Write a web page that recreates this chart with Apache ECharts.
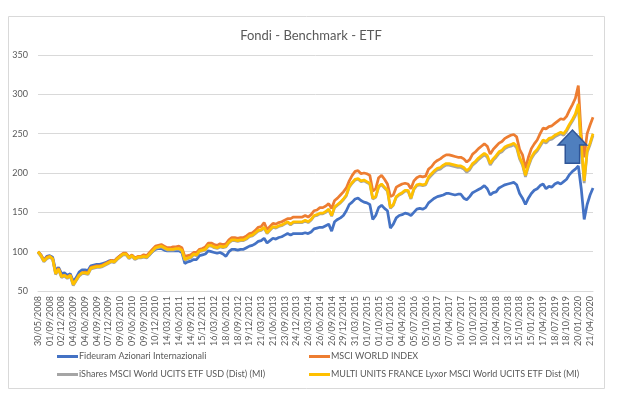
<!DOCTYPE html>
<html>
<head>
<meta charset="utf-8">
<script src="https://cdn.jsdelivr.net/npm/echarts@6/dist/echarts.min.js"></script>
<style>
html,body{margin:0;padding:0;background:#fff;}
#c{width:621px;height:400px;}
</style>
</head>
<body>
<div id="c"></div>
<script>
// ---- data ----
const tickLabels = ["30/05/2008","01/09/2008","02/12/2008","04/03/2009","04/06/2009","04/09/2009","07/12/2009","09/03/2010","09/06/2010","09/09/2010","10/12/2010","14/03/2011","14/06/2011","14/09/2011","15/12/2011","16/03/2012","18/06/2012","18/09/2012","19/12/2012","21/03/2013","21/06/2013","23/09/2013","24/12/2013","26/03/2014","26/06/2014","26/09/2014","29/12/2014","31/03/2015","01/07/2015","01/10/2015","01/01/2016","04/04/2016","05/07/2016","05/10/2016","05/01/2017","07/04/2017","10/07/2017","10/10/2017","10/01/2018","12/04/2018","13/07/2018","15/10/2018","15/01/2019","17/04/2019","18/07/2019","18/10/2019","20/01/2020","21/04/2020"];
const stepsPerTick = 4;
const extraPoints = 1;

const seriesNames = ["Fideuram Azionari Internazionali","MSCI WORLD INDEX","iShares MSCI World UCITS ETF USD (Dist) (MI)","MULTI UNITS FRANCE Lyxor MSCI World UCITS ETF Dist (MI)"];

const fideuram = [100,96,89,94,95,93,76,80,72,73,70,72,62,67,74,77,77,76,82,83,84,84,85,86,88,89,88,92,95,97,97,93,95,92,93,93,94,93,96,100,103,104,104,102,101,
101,101,101,101,99,85,87,88,90,90,95,96,97,101,100,99,98,99,97,94,100,103,103,102,103,103,105,107,108,110,113,114,117,111,114,117,116,118,119,121,123,121,123,123,
123,123,124,123,125,129,130,131,131,133,135,126,138,141,143,146,152,160,163,167,168,165,163,162,160,141,146,156,159,155,152,130,135,143,146,147,149,148,146,150,154,155,154,156,
162,165,168,170,171,172,174,174,173,172,173,173,168,166,170,175,177,179,181,184,180,172,175,176,181,183,185,186,187,188,185,174,168,160,168,174,178,180,184,186,180,183,182,186,188,186,189,192,198,202,205,209,180,141,160,172,181];

const msciWorld = [100,96,89,93,94,91,73,79,69,70,68,70,59,64,70,73,74,73,80,81,82,82,83,85,87,89,88,92,95,98,98,93,96,92,94,94,96,95,99,103,107,108,109,107,105,
105,106,106,107,105,94,95,96,99,99,103,104,106,111,111,109,108,110,109,110,115,118,118,117,118,118,120,123,124,127,131,132,137,128,132,136,135,137,138,140,142,142,144,144,
144,144,146,144,147,152,153,156,156,158,161,155,165,168,172,176,181,190,197,202,203,199,200,199,197,177,180,194,197,192,186,170,172,182,184,186,187,186,180,190,194,196,195,196,
205,208,213,216,218,221,223,223,222,221,220,220,218,214,217,224,227,231,234,237,234,224,230,234,238,240,244,246,248,249,246,230,223,206,220,231,237,242,250,257,256,259,260,263,266,269,268,272,280,287,295,311,247,220,250,261,271];

const iShares = [99,94,87,91,93,90,71,77,67,69,66,69,57,63,69,72,72,71,78,79,80,80,81,83,85,87,86,90,93,96,96,91,94,90,92,92,93,92,96,100,104,105,106,104,102,
102,102,103,103,101,89,91,92,96,95,100,101,102,107,107,105,104,106,105,106,111,114,114,113,114,114,116,119,120,123,126,127,130,123,127,131,130,132,133,135,137,134,137,137,
137,137,139,137,140,145,146,148,148,150,153,145,156,159,162,166,171,182,187,191,192,189,190,188,186,167,169,182,185,181,177,155,159,169,172,174,177,177,167,179,184,185,184,185,
193,197,201,204,205,208,210,210,209,208,207,207,205,201,204,210,213,217,220,223,220,210,216,220,225,227,231,233,234,236,232,218,210,195,208,218,224,228,234,240,238,242,243,246,248,250,248,253,260,266,273,285,233,187,226,236,248];

const lyxor = [100,95,88,92,94,91,72,78,68,70,67,70,58,64,70,73,73,72,79,80,81,81,82,84,86,88,87,91,94,97,97,92,95,91,93,93,94,93,97,101,105,106,107,105,103,
103,103,104,104,102,90,92,93,97,96,101,102,103,108,108,106,105,107,106,107,112,115,115,114,115,115,117,120,121,124,127,128,131,124,128,132,131,133,134,136,138,135,138,138,
138,138,140,138,141,146,147,149,149,151,154,146,157,160,163,167,172,183,188,192,193,190,191,189,187,168,170,183,186,182,178,156,160,170,173,175,178,178,168,180,185,186,185,186,
195,199,203,206,207,210,212,212,211,210,209,209,207,203,206,212,215,219,222,225,222,212,218,222,227,229,233,235,236,238,234,220,212,197,210,220,226,230,236,242,240,244,245,248,250,252,250,255,262,268,275,288,236,190,228,238,250];

const colors = ["#4472C4","#ED7D31","#A5A5A5","#FFC000"];

// categories: tick label dates with intermediate unlabeled points
const categories = [];
tickLabels.forEach((lab, k) => {
  categories.push(lab);
  if (k < tickLabels.length - 1) {
    for (let j = 1; j < stepsPerTick; j++) categories.push(lab + "#" + j);
  }
});
for (let j = 1; j <= extraPoints; j++) categories.push(tickLabels[tickLabels.length - 1] + "#" + j);

const FONT = "Lato, 'Open Sans', sans-serif";
const TXT = "#595959";

const chart = echarts.init(document.getElementById('c'), null, {renderer: 'canvas'});
const allData = [fideuram, msciWorld, iShares, lyxor];

const legendPos = [[57, 352],[309, 352],[57, 370],[309, 370]];

const frame = {
  type: 'rect', shape: {x: 8.5, y: 16.5, width: 596, height: 372},
  style: {fill: 'none', stroke: '#d9d9d9', lineWidth: 1}, z: 0, silent: true
};

const option = {
  backgroundColor: '#fff',
  animation: false,
  title: {
    text: 'Fondi - Benchmark - ETF',
    left: 306, top: 24, textAlign: 'center',
    textStyle: {fontFamily: FONT, fontSize: 13, fontWeight: 'normal', color: TXT}
  },
  legend: seriesNames.map((n, k) => ({
    data: [n], left: legendPos[k][0], top: legendPos[k][1], padding: 0,
    icon: 'rect', itemWidth: 21, itemHeight: 3, itemGap: 0,
    textStyle: {fontFamily: FONT, fontSize: 9, color: TXT, padding: [0,0,0,-4]}
  })),
  grid: {left: 38, right: 28, top: 55, bottom: 109, containLabel: false},
  xAxis: {
    type: 'category', data: categories, boundaryGap: false,
    axisLine: {show: true, lineStyle: {color: '#d9d9d9', width: 1}},
    axisTick: {show: false},
    axisLabel: {interval: stepsPerTick - 1, rotate: 90, margin: 5, fontFamily: FONT, fontSize: 9, color: TXT},
    splitLine: {show: false}
  },
  yAxis: {
    type: 'value', min: 50, max: 350, interval: 50,
    axisLine: {show: false}, axisTick: {show: false},
    axisLabel: {margin: 10, fontFamily: FONT, fontSize: 9, color: TXT},
    splitLine: {lineStyle: {color: '#d9d9d9', width: 1}}
  },
  series: seriesNames.map((n, k) => ({
    name: n, type: 'line', data: allData[k], showSymbol: false, symbol: 'none',
    lineStyle: {color: colors[k], width: 2.75}, itemStyle: {color: colors[k]},
    z: 2 + k
  })),
  graphic: [frame]
};
chart.setOption(option);

// annotation arrow anchored in data coordinates
const arrowAnchor = [181.5, 254.7];
const tip = chart.convertToPixel({xAxisIndex: 0, yAxisIndex: 0}, arrowAnchor);
const pts = [[0,0],[14.3,15],[7.2,15],[7.2,33.3],[-7.2,33.3],[-7.2,15],[-14.3,15]].map(p => [tip[0] + p[0], tip[1] + p[1]]);
chart.setOption({graphic: [frame, {
  type: 'polygon', shape: {points: pts},
  style: {fill: '#4F7FBE', stroke: '#2F5597', lineWidth: 1.5}, z: 100
}]});
</script>
</body>
</html>
